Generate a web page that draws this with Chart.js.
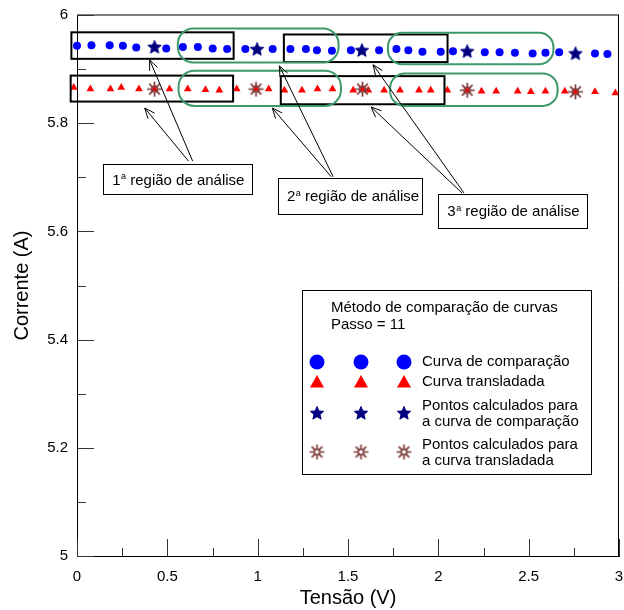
<!DOCTYPE html>
<html>
<head>
<meta charset="utf-8">
<script src="https://cdn.jsdelivr.net/npm/chart.js@4.4.0/dist/chart.umd.min.js"></script>
<style>
  html, body { margin: 0; padding: 0; background: #fff; }
  #wrap { width: 624px; height: 610px; }
</style>
</head>
<body>
<div id="wrap"><canvas id="grafico" width="624" height="610"></canvas></div>
<script>
// Curva de comparação (pontos azuis)
const tensaoComparacao = [0.000, 0.080, 0.181, 0.254, 0.328, 0.494, 0.586, 0.669, 0.751, 0.831, 0.932,
  1.083, 1.181, 1.267, 1.328, 1.411, 1.516, 1.672, 1.768, 1.834, 1.912, 2.013, 2.081,
  2.257, 2.339, 2.424, 2.522, 2.593, 2.669, 2.867, 2.936];
const correnteComparacao = [5.943, 5.944, 5.944, 5.943, 5.940, 5.938, 5.941, 5.941, 5.938, 5.937, 5.937,
  5.937, 5.937, 5.937, 5.935, 5.934, 5.935, 5.935, 5.937, 5.935, 5.932, 5.932, 5.933,
  5.931, 5.931, 5.930, 5.929, 5.930, 5.931, 5.929, 5.928];

// Curva transladada (triângulos vermelhos)
const tensaoTransladada = [-0.018, 0.074, 0.185, 0.245, 0.343, 0.429, 0.512, 0.613, 0.711, 0.788, 0.884,
  0.991, 1.061, 1.148, 1.245, 1.331, 1.414, 1.529, 1.580, 1.612, 1.700, 1.788, 1.893, 1.958,
  2.050, 2.160, 2.239, 2.320, 2.439, 2.512, 2.593, 2.700, 2.759, 2.867, 2.980];
const correnteTransladada = [5.866, 5.863, 5.863, 5.866, 5.863, 5.863, 5.863, 5.863, 5.862, 5.861, 5.863,
  5.863, 5.863, 5.861, 5.861, 5.863, 5.863, 5.861, 5.863, 5.861, 5.861, 5.861, 5.861, 5.861,
  5.861, 5.861, 5.859, 5.859, 5.859, 5.858, 5.859, 5.859, 5.858, 5.858, 5.856];

// Pontos calculados (passo = 11)
const tensaoCalcComparacao = [0.429, 0.997, 1.577, 2.160, 2.759];
const correnteCalcComparacao = [5.941, 5.937, 5.935, 5.933, 5.929];
const tensaoCalcTransladada = [0.429, 0.991, 1.580, 2.160, 2.759];
const correnteCalcTransladada = [5.863, 5.863, 5.863, 5.861, 5.858];

// Eixos
const ticksX = [0, 0.5, 1, 1.5, 2, 2.5, 3];
const rotulosX = ['0', '0.5', '1', '1.5', '2', '2.5', '3'];
const ticksY = [5, 5.2, 5.4, 5.6, 5.8, 6];
const rotulosY = ['5', '5.2', '5.4', '5.6', '5.8', '6'];

// Regiões de análise: [x0, x1, yTopo, yBase] em unidades dos eixos
const retangulosPretos = [
  [-0.031, 0.867, 5.968, 5.919], [1.145, 2.051, 5.964, 5.913],
  [-0.035, 0.864, 5.888, 5.840], [1.128, 2.034, 5.887, 5.835]
];
const retangulosVerdes = [
  [0.558, 1.448, 5.975, 5.912], [1.721, 2.637, 5.967, 5.909],
  [0.562, 1.461, 5.897, 5.832], [1.733, 2.660, 5.892, 5.832]
];
const caixasTexto = [
  { n: '1', texto: ' região de análise', caixa: [0.145, 0.970, 5.724, 5.668] },
  { n: '2', texto: ' região de análise', caixa: [1.112, 1.911, 5.698, 5.632] },
  { n: '3', texto: ' região de análise', caixa: [2.000, 2.825, 5.669, 5.606] }
];
// setas: [xCauda, yCauda, xPonta, yPonta]
const setas = [
  [0.617, 5.730, 0.375, 5.828], [0.640, 5.730, 0.402, 5.917],
  [1.407, 5.701, 1.081, 5.828], [1.418, 5.701, 1.120, 5.906],
  [2.131, 5.671, 1.628, 5.830], [2.142, 5.671, 1.639, 5.908]
];

const tituloLegenda = ['Método de comparação de curvas', 'Passo = 11'];
const rotulosLegenda = [
  ['Curva de comparação'],
  ['Curva transladada'],
  ['Pontos calculados para', 'a curva de comparação'],
  ['Pontos calculados para', 'a curva transladada']
];

const FONTE = '"Liberation Sans", Arial, sans-serif';
const AZUL = '#0000ff', VERMELHO = '#ff0000', MARINHO = '#000080', MARROM = '#7f3f3f', VERDE = '#3c9a6a';

function pares(xs, ys) { return xs.map((x, i) => ({ x: x, y: ys[i] })); }

function estrela(raio) {
  const c = document.createElement('canvas');
  const t = Math.ceil(raio * 2 + 4);
  c.width = c.height = t;
  const g = c.getContext('2d');
  g.translate(t / 2, t / 2 + 0.5);
  g.beginPath();
  for (let i = 0; i < 10; i++) {
    const r = i % 2 ? raio * 0.45 : raio;
    const a = -Math.PI / 2 + i * Math.PI / 5;
    g.lineTo(r * Math.cos(a), r * Math.sin(a));
  }
  g.closePath();
  g.fillStyle = MARINHO;
  g.fill();
  g.strokeStyle = MARINHO;
  g.lineWidth = 1;
  g.stroke();
  return c;
}

function asterisco(raio) {
  const c = document.createElement('canvas');
  const t = Math.ceil(raio * 2 + 4);
  c.width = c.height = t;
  const g = c.getContext('2d');
  g.translate(t / 2, t / 2);
  g.strokeStyle = MARROM;
  g.lineWidth = 1.7;
  g.beginPath();
  for (let i = 0; i < 8; i++) {
    const a = i * Math.PI / 4;
    g.moveTo(raio * 0.35 * Math.cos(a), raio * 0.35 * Math.sin(a));
    g.lineTo(raio * Math.cos(a), raio * Math.sin(a));
  }
  g.stroke();
  g.beginPath();
  for (let i = 0; i < 16; i++) {
    const r = i % 2 ? raio * 0.3 : raio * 0.55;
    const a = i * Math.PI / 8;
    g.lineTo(r * Math.cos(a), r * Math.sin(a));
  }
  g.closePath();
  g.lineWidth = 1.2;
  g.stroke();
  return c;
}

const estrelaPequena = estrela(7);
const asteriscoPequeno = asterisco(7.5);

function caminhoArredondado(ctx, x, y, w, h, r) {
  ctx.beginPath();
  ctx.moveTo(x + r, y);
  ctx.lineTo(x + w - r, y);
  ctx.arcTo(x + w, y, x + w, y + r, r);
  ctx.lineTo(x + w, y + h - r);
  ctx.arcTo(x + w, y + h, x + w - r, y + h, r);
  ctx.lineTo(x + r, y + h);
  ctx.arcTo(x, y + h, x, y + h - r, r);
  ctx.lineTo(x, y + r);
  ctx.arcTo(x, y, x + r, y, r);
  ctx.closePath();
}

function marcador(ctx, tipo, x, y) {
  ctx.save();
  if (tipo === 0) {
    ctx.fillStyle = AZUL;
    ctx.beginPath();
    ctx.arc(x, y, 7.5, 0, Math.PI * 2);
    ctx.fill();
  } else if (tipo === 1) {
    ctx.fillStyle = VERMELHO;
    ctx.beginPath();
    ctx.moveTo(x, y - 7);
    ctx.lineTo(x + 7, y + 5.5);
    ctx.lineTo(x - 7, y + 5.5);
    ctx.closePath();
    ctx.fill();
  } else if (tipo === 2) {
    ctx.drawImage(estrelaPequena, x - estrelaPequena.width / 2, y - estrelaPequena.height / 2);
  } else {
    ctx.drawImage(asteriscoPequeno, x - asteriscoPequeno.width / 2, y - asteriscoPequeno.height / 2);
  }
  ctx.restore();
}

const desenhos = {
  id: 'desenhos',
  afterDatasetsDraw(chart) {
    const ctx = chart.ctx, a = chart.chartArea;
    const sx = chart.scales.x, sy = chart.scales.y;
    const px = v => sx.getPixelForValue(v), py = v => sy.getPixelForValue(v);
    ctx.save();

    // moldura superior e direita
    ctx.strokeStyle = '#808080';
    ctx.lineWidth = 2;
    ctx.beginPath();
    ctx.moveTo(a.left, a.top);
    ctx.lineTo(a.right, a.top);
    ctx.stroke();
    ctx.strokeStyle = '#000';
    ctx.lineWidth = 1;
    ctx.beginPath();
    ctx.moveTo(Math.round(a.right) - 0.5, a.top);
    ctx.lineTo(Math.round(a.right) - 0.5, a.bottom);
    ctx.stroke();

    // ticks para dentro
    ctx.strokeStyle = '#333';
    ctx.lineWidth = 1;
    ctx.beginPath();
    ticksY.forEach((v, i) => {
      const y = Math.round(py(v)) + 0.5;
      ctx.moveTo(a.left, y); ctx.lineTo(a.left + 17, y);
      if (i < ticksY.length - 1) {
        const ym = Math.round(py(v + 0.1)) + 0.5;
        ctx.moveTo(a.left, ym); ctx.lineTo(a.left + 9, ym);
      }
    });
    ticksX.forEach((v, i) => {
      const x = Math.round(px(v)) + 0.5;
      ctx.moveTo(x, a.bottom); ctx.lineTo(x, a.bottom - 17);
      if (i < ticksX.length - 1) {
        const xm = Math.round(px(v + 0.25)) + 0.5;
        ctx.moveTo(xm, a.bottom); ctx.lineTo(xm, a.bottom - 8);
      }
    });
    ctx.stroke();

    // retângulos das regiões
    ctx.strokeStyle = '#000';
    ctx.lineWidth = 2;
    retangulosPretos.forEach(r => {
      ctx.strokeRect(px(r[0]), py(r[2]), px(r[1]) - px(r[0]), py(r[3]) - py(r[2]));
    });
    ctx.strokeStyle = VERDE;
    retangulosVerdes.forEach(r => {
      const h = py(r[3]) - py(r[2]);
      caminhoArredondado(ctx, px(r[0]), py(r[2]), px(r[1]) - px(r[0]), h, h / 2.2);
      ctx.stroke();
    });

    // setas
    ctx.strokeStyle = '#000';
    ctx.lineWidth = 1;
    setas.forEach(s => {
      const x0 = px(s[0]), y0 = py(s[1]), x1 = px(s[2]), y1 = py(s[3]);
      const ang = Math.atan2(y1 - y0, x1 - x0);
      ctx.beginPath();
      ctx.moveTo(x0, y0); ctx.lineTo(x1, y1);
      ctx.moveTo(x1 - 11 * Math.cos(ang - 0.4), y1 - 11 * Math.sin(ang - 0.4));
      ctx.lineTo(x1, y1);
      ctx.lineTo(x1 - 11 * Math.cos(ang + 0.4), y1 - 11 * Math.sin(ang + 0.4));
      ctx.stroke();
    });

    // caixas de texto
    caixasTexto.forEach(c => {
      const x0 = px(c.caixa[0]), x1 = px(c.caixa[1]), y0 = py(c.caixa[2]), y1 = py(c.caixa[3]);
      ctx.fillStyle = '#fff';
      ctx.fillRect(x0, y0, x1 - x0, y1 - y0);
      ctx.strokeStyle = '#000';
      ctx.lineWidth = 1;
      ctx.strokeRect(Math.round(x0) + 0.5, Math.round(y0) + 0.5, Math.round(x1 - x0), Math.round(y1 - y0));
      const ym = (y0 + y1) / 2 + 1;
      let x = x0 + 9;
      ctx.fillStyle = '#000';
      ctx.textBaseline = 'middle';
      ctx.font = '15px ' + FONTE;
      ctx.fillText(c.n, x, ym);
      x += ctx.measureText(c.n).width + 0.5;
      ctx.font = '9px ' + FONTE;
      ctx.fillText('a', x, ym - 4);
      x += ctx.measureText('a').width;
      ctx.font = '15px ' + FONTE;
      ctx.fillText(c.texto, x, ym);
    });

    // legenda
    ctx.strokeStyle = '#000';
    ctx.lineWidth = 1;
    ctx.strokeRect(302.5, 290.5, 289, 184);
    ctx.fillStyle = '#000';
    ctx.font = '15px ' + FONTE;
    ctx.textBaseline = 'middle';
    ctx.fillText(tituloLegenda[0], 331, 308);
    ctx.fillText(tituloLegenda[1], 331, 325);
    const linhasY = [362, 382, 413, 452];
    const colunasX = [317, 361, 404];
    rotulosLegenda.forEach((r, i) => {
      colunasX.forEach(x => marcador(ctx, i, x, linhasY[i]));
      ctx.fillStyle = '#000';
      if (r.length === 1) {
        ctx.fillText(r[0], 422, linhasY[i]);
      } else {
        ctx.fillText(r[0], 422, linhasY[i] - 7.5);
        ctx.fillText(r[1], 422, linhasY[i] + 8.5);
      }
    });

    ctx.restore();
  }
};

Chart.defaults.font.family = FONTE;
Chart.defaults.color = '#000';

const semPadding = () => ({ left: 0, top: 0, right: 0, bottom: 0 });

new Chart(document.getElementById('grafico').getContext('2d'), {
  type: 'scatter',
  data: {
    datasets: [{
      label: 'Pontos calculados para a curva de comparação',
      data: pares(tensaoCalcComparacao, correnteCalcComparacao),
      pointStyle: estrelaPequena,
      order: 0,
      clip: false
    }, {
      label: 'Pontos calculados para a curva transladada',
      data: pares(tensaoCalcTransladada, correnteCalcTransladada),
      pointStyle: asteriscoPequeno,
      order: 1,
      clip: false
    }, {
      label: 'Curva de comparação',
      data: pares(tensaoComparacao, correnteComparacao),
      pointStyle: 'circle',
      pointRadius: 4,
      backgroundColor: AZUL,
      borderColor: AZUL,
      borderWidth: 0,
      order: 2,
      clip: false
    }, {
      label: 'Curva transladada',
      data: pares(tensaoTransladada, correnteTransladada),
      pointStyle: 'triangle',
      pointRadius: 4.5,
      backgroundColor: VERMELHO,
      borderColor: VERMELHO,
      borderWidth: 0,
      order: 3,
      clip: false
    }]
  },
  options: {
    responsive: false,
    animation: false,
    devicePixelRatio: 1,
    events: [],
    layout: { padding: { top: 15, right: 3, left: 0, bottom: 0 } },
    plugins: { legend: { display: false }, tooltip: { enabled: false } },
    scales: {
      x: {
        type: 'linear',
        min: 0,
        max: 3,
        afterBuildTicks: s => { s.ticks = ticksX.map(v => ({ value: v })); },
        afterFit: s => { s.height = 54; s.paddingLeft = 0; s.paddingRight = 0; s.getPadding = semPadding; },
        ticks: {
          callback: v => rotulosX[ticksX.indexOf(v)],
          font: { size: 15 },
          color: '#000',
          padding: 12,
          maxRotation: 0
        },
        grid: { display: false, drawTicks: false },
        border: { display: true, color: '#000', width: 1 },
        title: { display: true, text: 'Tensão (V)', font: { size: 20 }, color: '#000', padding: { top: 0, bottom: 0 } }
      },
      y: {
        type: 'linear',
        min: 5,
        max: 6,
        afterBuildTicks: s => { s.ticks = ticksY.map(v => ({ value: v })); },
        afterFit: s => { s.width = 77; s.paddingTop = 0; s.paddingBottom = 0; s.getPadding = semPadding; },
        ticks: {
          callback: v => rotulosY[ticksY.indexOf(v)],
          font: { size: 15 },
          color: '#000',
          padding: 9
        },
        grid: { display: false, drawTicks: false },
        border: { display: true, color: '#000', width: 1 },
        title: { display: true, text: 'Corrente (A)', font: { size: 20 }, color: '#000', padding: { top: 10, bottom: 0 } }
      }
    }
  },
  plugins: [desenhos]
});
</script>
</body>
</html>
